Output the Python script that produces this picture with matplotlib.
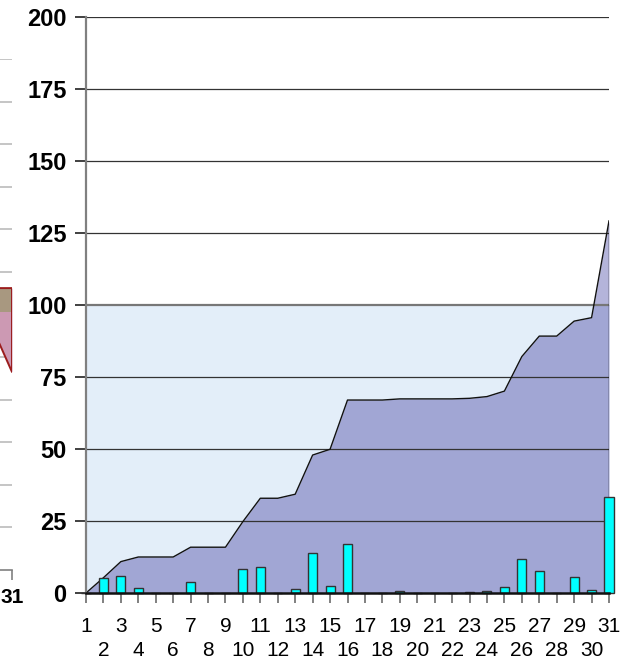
import numpy as np
import matplotlib.pyplot as plt
from matplotlib.patches import Rectangle

plt.rcParams['font.family'] = ['Liberation Sans', 'DejaVu Sans']

# daily values (bars) and running total (area)
days = np.arange(1, 32)
daily = np.array([0, 5.3, 6.0, 1.8, 0, 0, 3.7, 0, 0, 8.3,
                  9.1, 0, 1.5, 13.9, 2.4, 17.1, 0, 0, 0.6, 0,
                  0, 0, 0.3, 0.6, 2.1, 11.7, 7.6, 0, 5.6, 1.2,
                  33.5])
total = np.array([0, 5.3, 10.9, 12.5, 12.5, 12.5, 15.9, 15.9, 15.9, 24.8,
                  32.9, 32.9, 34.3, 47.9, 49.9, 67.0, 67.0, 67.0, 67.4, 67.4,
                  67.4, 67.4, 67.6, 68.2, 70.1, 82.1, 89.2, 89.2, 94.4, 95.6,
                  129.2])
y_ticks = [0, 25, 50, 75, 100, 125, 150, 175, 200]
target = 100

# neighbouring chart, only its right edge shows at the left of the picture
nb_x = [30, 31]
nb_low = [5.55, 4.65]
nb_mid = [6.06, 6.06]
nb_top = [6.62, 6.62]

W, H = 641, 658
fig = plt.figure(figsize=(W / 100, H / 100), dpi=100)

# --- main chart
ax = fig.add_axes([86 / W, (H - 593) / H, 523 / W, 576 / H])
ax.set_xlim(1, 31)
ax.set_ylim(0, 200)

ax.axhspan(0, target, color='#e3eef9', zorder=0.5, lw=0)

below = ax.fill_between(days, 0, total, color='#a1a6d4', lw=0, zorder=1)
below.set_clip_path(Rectangle((1, 0), 30, target, transform=ax.transData))
above = ax.fill_between(days, 0, total, color='#b4b4da', lw=0, zorder=1)
above.set_clip_path(Rectangle((1, target), 30, 200, transform=ax.transData))

for v in y_ticks[1:]:
    if v == target:
        ax.axhline(v, color='#777777', lw=1.6, zorder=1.5)
    else:
        ax.axhline(v, color='#333333', lw=0.9, zorder=1.5)

ax.plot(days, total, color='#111111', lw=1.0, zorder=2)
ax.plot([31, 31], [0, total[-1]], color='#111111', lw=1.0, zorder=2)

ax.bar(days, daily, width=0.52, color='#00ffff', edgecolor='#333333',
       lw=1.0, zorder=3, clip_on=False)

for s in ['top', 'right']:
    ax.spines[s].set_visible(False)
ax.spines['left'].set_color('#808080')
ax.spines['left'].set_linewidth(1.6)
ax.spines['bottom'].set_color('#111111')
ax.spines['bottom'].set_linewidth(1.8)
ax.spines['bottom'].set_zorder(4)

ax.set_yticks(y_ticks)
ax.set_yticklabels([str(v) for v in y_ticks], fontsize=17, fontweight='bold')
ax.tick_params(axis='y', length=8, width=1.4, color='#404040', pad=6)

ax.set_xticks(days[::2])
ax.set_xticklabels([str(d) for d in days[::2]], fontsize=15)
ax.set_xticks(days[1::2], minor=True)
ax.set_xticklabels([str(d) for d in days[1::2]], minor=True, fontsize=15)
ax.tick_params(axis='x', which='major', length=7.2, width=1.4, color='#808080', pad=10)
ax.tick_params(axis='x', which='minor', length=7.2, width=1.4, color='#808080', pad=27)

# --- neighbouring chart edge
ax2 = fig.add_axes([-300 / W, (H - 570) / H, 312 / W, 511 / H])
ax2.set_xlim(31 - 312 / 17.0, 31)
ax2.set_ylim(0, 12)
for v in range(1, 13):
    ax2.axhline(v, color='#bbbbbb', lw=1.2, zorder=0.5)
ax2.fill_between(nb_x, nb_low, nb_top, color='#cc99b3', lw=0, zorder=1)
ax2.fill_between(nb_x, nb_mid, nb_top, color='#a89880', lw=0, zorder=1.2)
ax2.plot([nb_x[0], 31, 31, nb_x[0]], [nb_top[0], nb_top[1], nb_low[1], nb_low[0]],
         color='#9b1c1c', lw=1.4, zorder=2)
for s in ['top', 'right', 'left']:
    ax2.spines[s].set_visible(False)
ax2.spines['bottom'].set_color('#808080')
ax2.spines['bottom'].set_linewidth(1.2)
ax2.set_yticks([])
ax2.set_xticks([31])
ax2.set_xticklabels(['31'], fontsize=15, fontweight='bold')
ax2.tick_params(axis='x', length=7.2, width=1.2, color='#808080', pad=6)

fig.savefig('out.png', dpi=100)
